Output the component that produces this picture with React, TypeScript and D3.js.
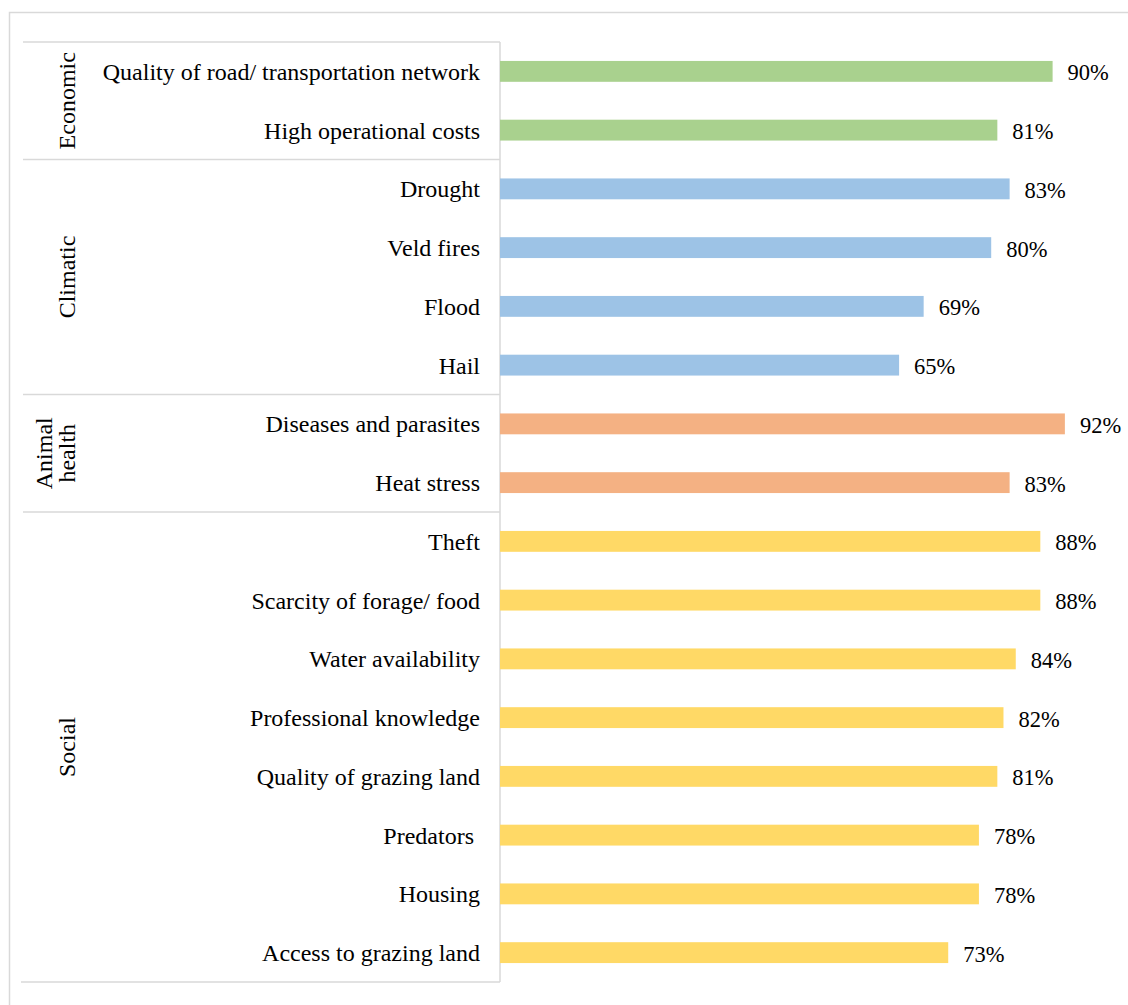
import React from "react";
import * as d3 from "d3";

const categories = [
  "Quality of road/ transportation network",
  "High operational costs",
  "Drought",
  "Veld fires",
  "Flood",
  "Hail",
  "Diseases and parasites",
  "Heat stress",
  "Theft",
  "Scarcity of forage/ food",
  "Water availability",
  "Professional knowledge",
  "Quality of grazing land",
  "Predators ",
  "Housing",
  "Access to grazing land",
];
const values = [90, 81, 83, 80, 69, 65, 92, 83, 88, 88, 84, 82, 81, 78, 78, 73];
const groupOf = [
  "Economic", "Economic",
  "Climatic", "Climatic", "Climatic", "Climatic",
  "Animal health", "Animal health",
  "Social", "Social", "Social", "Social", "Social", "Social", "Social", "Social",
];
const groups = ["Economic", "Climatic", "Animal health", "Social"];
const groupLines: Record<string, string[]> = {
  Economic: ["Economic"],
  Climatic: ["Climatic"],
  "Animal health": ["Animal", "health"],
  Social: ["Social"],
};
const groupColors = ["#A9D18E", "#9DC3E6", "#F4B183", "#FFD966"];

const W = 1128;
const H = 1005;
const axisX = 500;
const top = 42;
const bottom = 982;
const gridColor = "#d9d9d9";
const font = "'Liberation Serif', 'Times New Roman', serif";

export default function App() {
  const x = d3.scaleLinear().domain([0, 100]).range([axisX, axisX + 614]);
  const y = d3.scaleBand<number>().domain(d3.range(categories.length)).range([top, bottom]).paddingInner(0.645).paddingOuter(0.3225);
  const band = (bottom - top) / categories.length;
  const color = d3.scaleOrdinal<string, string>().domain(groups).range(groupColors);

  const groupSpans = groups.map((g) => {
    const idx = groupOf.map((gg, i) => (gg === g ? i : -1)).filter((i) => i >= 0);
    const y0 = top + d3.min(idx)! * band;
    const y1 = top + (d3.max(idx)! + 1) * band;
    return { g, y0, y1 };
  });

  return (
    <svg width={W} height={H} style={{ position: "absolute", left: 0, top: 0, background: "#fff" }}>
      <rect x={9.5} y={12.5} width={1130} height={1010} fill="#fff" stroke={gridColor} strokeWidth={1.5} />
      {groupSpans.map((s, i) => (
        <line key={"gl" + i} x1={23} x2={axisX} y1={s.y0} y2={s.y0} stroke={gridColor} strokeWidth={1.5} />
      ))}
      <line x1={21} x2={axisX} y1={bottom} y2={bottom} stroke={gridColor} strokeWidth={1.5} />
      <line x1={axisX} x2={axisX} y1={top} y2={bottom} stroke={gridColor} strokeWidth={1.5} />
      {groupSpans.map((s, i) => {
        const lines = groupLines[s.g];
        const cy = (s.y0 + s.y1) / 2;
        const lh = 23;
        return (
          <text key={"gt" + i} transform={`translate(${67 - (lines.length - 1) * lh},${cy}) rotate(-90)`} textAnchor="middle" fontFamily={font} fontSize={24} fill="#000">
            {lines.map((ln, j) => (
              <tspan key={j} x={0} y={j * lh} dy="0.35em">{ln}</tspan>
            ))}
          </text>
        );
      })}
      {categories.map((c, i) => (
        <g key={"r" + i}>
          <rect x={x(0)} y={y(i)!} width={x(values[i]) - x(0)} height={y.bandwidth()} fill={color(groupOf[i])} />
          <text x={480} y={y(i)! + y.bandwidth() / 2} dy="0.35em" textAnchor="end" fontFamily={font} fontSize={24} fill="#000" style={{ whiteSpace: "pre" }}>
            {c}
          </text>
          <text x={x(values[i]) + 15} y={y(i)! + y.bandwidth() / 2 + 1} dy="0.35em" fontFamily={font} fontSize={22.5} fill="#000">
            {values[i]}%
          </text>
        </g>
      ))}
    </svg>
  );
}
